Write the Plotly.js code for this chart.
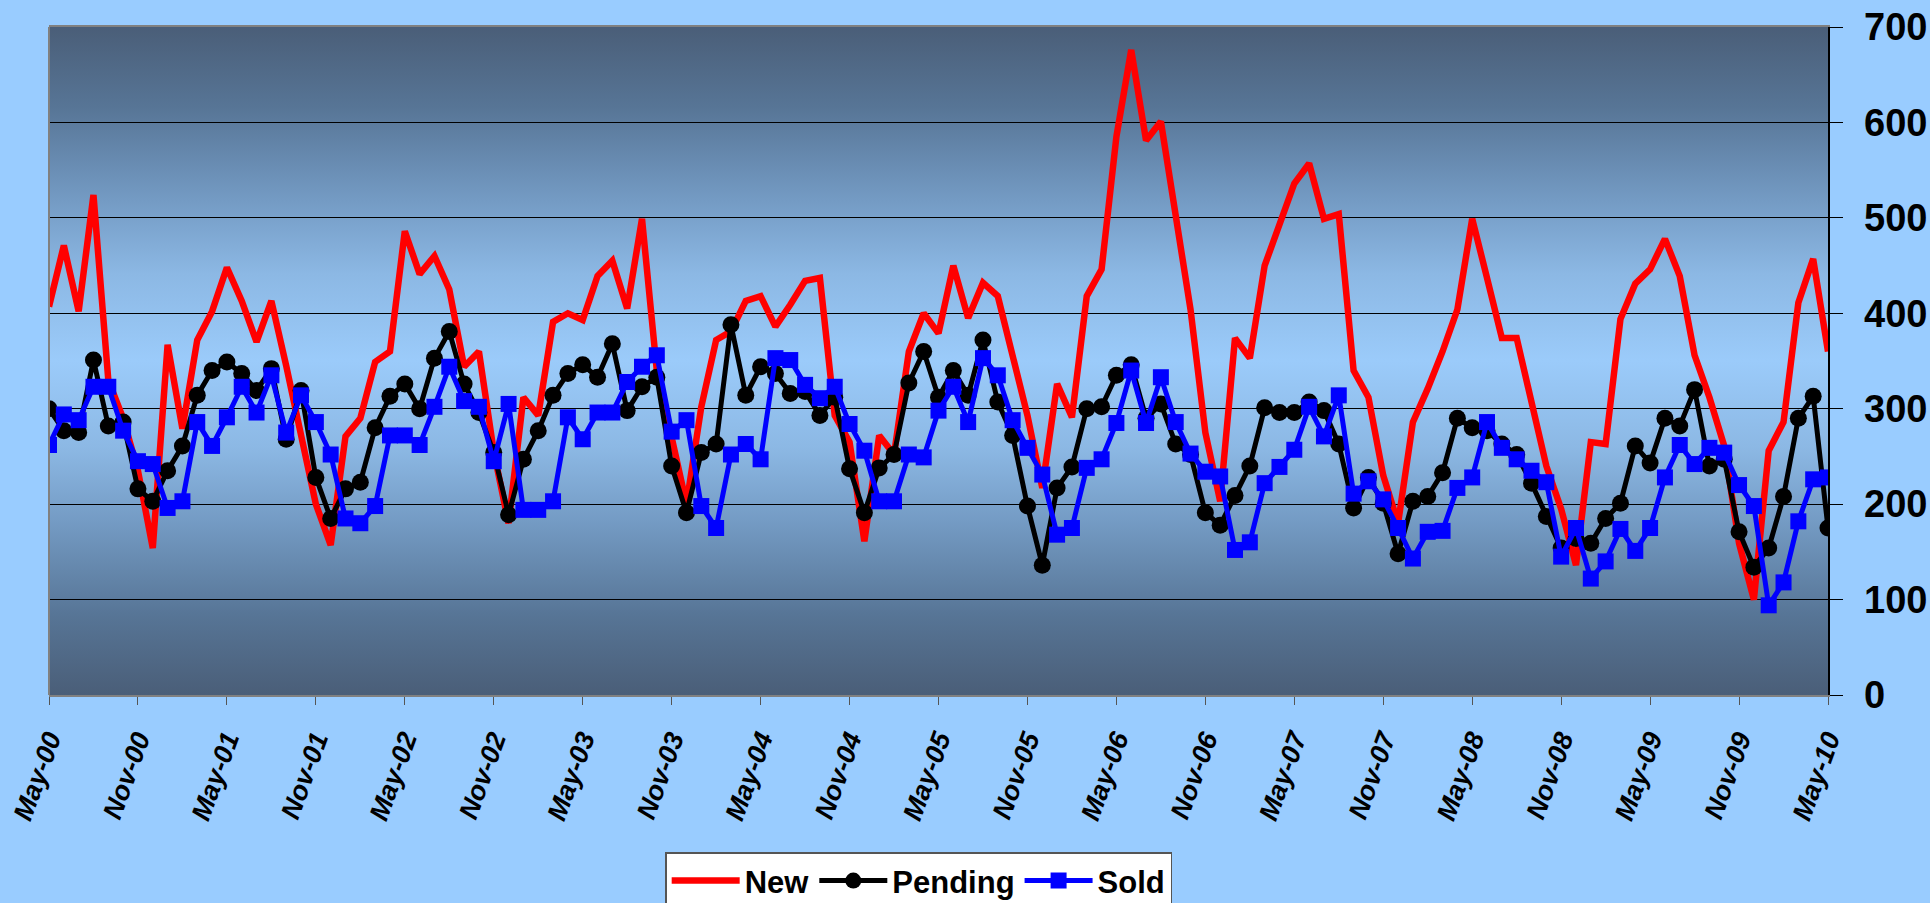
<!DOCTYPE html>
<html>
<head>
<meta charset="utf-8">
<script src="https://cdn.plot.ly/plotly-3.0.1.min.js"></script>
<style>
html,body{margin:0;padding:0;background:#99ccff;}
#chart{width:1930px;height:903px;}
</style>
</head>
<body>
<div id="chart"></div>
<script>
// Tick labels every six months, May-00 .. May-10
const tickLabels = ["May-00","Nov-00","May-01","Nov-01","May-02","Nov-02","May-03","Nov-03","May-04","Nov-04","May-05","Nov-05","May-06","Nov-06","May-07","Nov-07","May-08","Nov-08","May-09","Nov-09","May-10"];

// Monthly values, May-00 .. May-10 (121 months)
const newListings = [407,471,402,524,330,290,235,154,367,279,372,402,448,413,370,413,345,275,200,157,
  271,290,349,360,486,441,460,425,344,360,255,180,312,293,391,400,393,439,455,405,
  499,340,270,200,302,372,381,413,418,386,409,434,437,293,265,161,272,252,360,400,
  379,450,395,432,418,358,293,217,326,291,418,446,585,676,581,601,506,404,275,203,
  374,353,450,494,536,557,499,504,340,312,230,180,286,321,360,404,499,437,374,374,
  307,240,195,136,265,263,394,431,446,478,439,356,312,261,159,100,256,286,411,457,360];

const pending = [300,277,275,351,282,286,216,203,235,261,314,340,349,337,319,342,268,319,228,185,
  216,223,280,313,326,300,353,381,326,296,254,189,247,277,314,337,346,333,368,298,
  323,333,240,191,254,263,388,314,344,337,316,318,293,312,237,191,238,252,327,360,
  312,340,314,372,307,272,198,136,217,239,300,302,335,346,290,305,263,252,191,178,
  209,240,301,296,296,307,298,263,196,228,201,148,203,208,233,290,280,277,263,252,
  222,187,154,164,159,185,201,261,243,290,282,320,240,247,171,134,154,208,290,313,175];

const sold = [262,294,288,323,323,277,245,242,196,203,286,261,291,323,296,335,275,314,286,252,
  185,180,198,272,272,262,302,344,308,302,245,305,194,194,203,291,268,296,296,328,
  344,356,276,288,198,175,252,263,247,353,351,325,311,323,284,256,203,203,252,249,
  298,323,286,353,335,288,259,231,168,175,238,247,285,340,285,333,286,253,234,229,
  152,160,222,239,257,302,271,314,211,224,205,175,143,171,172,217,228,286,259,247,
  235,223,145,175,122,140,174,151,175,228,262,242,259,254,220,198,94,118,182,226,228];

const monthIndex = newListings.map((_, i) => i);
const tickPositions = tickLabels.map((_, i) => i * 6);

const gradSvg = '<svg xmlns="http://www.w3.org/2000/svg" width="100" height="100" preserveAspectRatio="none" viewBox="0 0 100 100">' +
  '<defs><linearGradient id="g" x1="0" y1="0" x2="0" y2="1">' +
  '<stop offset="0" stop-color="#4a5e78"/>' +
  '<stop offset="0.12" stop-color="#577596"/>' +
  '<stop offset="0.26" stop-color="#749bc4"/>' +
  '<stop offset="0.37" stop-color="#8cb8e4"/>' +
  '<stop offset="0.5" stop-color="#9bcbfa"/>' +
  '<stop offset="0.63" stop-color="#8cb8e4"/>' +
  '<stop offset="0.74" stop-color="#749bc4"/>' +
  '<stop offset="0.88" stop-color="#577596"/>' +
  '<stop offset="1" stop-color="#4a5e78"/>' +
  '</linearGradient></defs><rect width="100" height="100" fill="url(#g)"/></svg>';
const gradUri = 'data:image/svg+xml;charset=utf-8,' + encodeURIComponent(gradSvg);

const FONT = 'Arial, "Liberation Sans", sans-serif';

const traces = [
  {x: monthIndex, y: newListings, name: 'New', type: 'scatter', mode: 'lines',
   line: {color: '#ff0000', width: 6.5}},
  {x: monthIndex, y: pending, name: 'Pending', type: 'scatter', mode: 'lines+markers',
   line: {color: '#000000', width: 5}, marker: {symbol: 'circle', size: 17, color: '#000000'}},
  {x: monthIndex, y: sold, name: 'Sold', type: 'scatter', mode: 'lines+markers',
   line: {color: '#0000ff', width: 5}, marker: {symbol: 'square', size: 16, color: '#0000ff'}}
];

const layout = {
  width: 1930, height: 903,
  paper_bgcolor: '#99ccff',
  plot_bgcolor: 'rgba(0,0,0,0)',
  margin: {l: 49, r: 102, t: 27, b: 208},
  showlegend: true,
  font: {family: FONT, color: '#000'},
  images: [{source: gradUri, xref: 'paper', yref: 'paper', x: 0, y: 1, sizex: 1, sizey: 1,
            xanchor: 'left', yanchor: 'top', sizing: 'stretch', layer: 'below'}],
  xaxis: {
    automargin: false,
    range: [0, 120], tickmode: 'array', tickvals: tickPositions, ticktext: tickLabels,
    tickangle: -70, ticks: 'outside', ticklen: 8, tickwidth: 1, tickcolor: '#555',
    showgrid: false, zeroline: false, showline: true, linecolor: '#808080', linewidth: 2, mirror: true,
    tickfont: {family: FONT, size: 27, weight: 'bold', style: 'italic', color: '#000'},
    ticklabelstandoff: 8
  },
  yaxis: {
    automargin: false,
    range: [0, 700], dtick: 100, side: 'right', showgrid: true, gridcolor: '#000', gridwidth: 1,
    zeroline: false, showline: true, linecolor: '#000', linewidth: 1.5,
    ticks: 'outside', ticklen: 13, tickcolor: '#000',
    tickfont: {family: FONT, size: 38, weight: 'bold', color: '#000'},
    ticklabelstandoff: 14
  },
  shapes: [{type: 'line', xref: 'paper', yref: 'paper', x0: 0, x1: 0, y0: 0, y1: 1,
            line: {color: '#808080', width: 2}}],
  legend: {
    orientation: 'h', xref: 'container', yref: 'container',
    x: 0.476, xanchor: 'center', y: 0.056, yanchor: 'top',
    bgcolor: '#ffffff', bordercolor: '#555', borderwidth: 1.5,
    font: {family: FONT, size: 31, weight: 'bold', color: '#000'},
    itemwidth: 68, traceorder: 'normal'
  }
};

Plotly.newPlot('chart', traces, layout, {displayModeBar: false, staticPlot: true});
</script>
</body>
</html>
